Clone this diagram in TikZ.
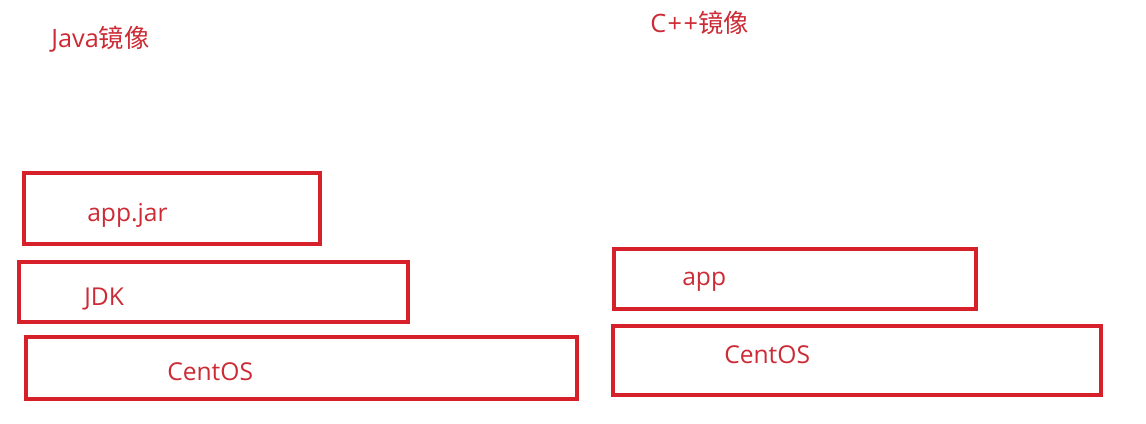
\documentclass[tikz,border=0pt]{standalone}
\usepackage{fontspec}
\setmainfont{Open Sans}
\newfontfamily\cjk{Noto Sans CJK SC}
\usepackage{tikz}
\usetikzlibrary{positioning}
\usepackage{xcolor}
\definecolor{PenRed}{RGB}{214,32,42}
\definecolor{InkRed}{RGB}{204,42,52}

\begin{document}
\begin{tikzpicture}[x=0.025cm,y=-0.025cm,
  layer/.style={draw=PenRed,line width=0.1cm,inner sep=0pt},
  lbl/.style={text=InkRed,inner sep=0pt,anchor=base west,font=\fontsize{17.5}{20}\selectfont},
  ttl/.style={text=InkRed,inner sep=0pt,anchor=base west,font=\fontsize{18}{21}\selectfont},
]
\useasboundingbox (0,0) rectangle (1146,423);
% titles
\node[ttl] (javattl) at (51,47) {Java{\cjk 镜像}};
\node[ttl] (cppttl) at (650,32) {C{\kern1pt}+{\kern1pt}+{\cjk 镜像}};
% Java image layers
\node[layer,minimum width=7.4cm,minimum height=1.775cm] (jarbox) at (172,208.5) {};
\node[layer,minimum width=9.725cm,minimum height=1.5cm] (jdkbox) at (213.5,292) {};
\node[layer,minimum width=13.775cm,minimum height=1.55cm] (jvmos) at (301.5,368) {};
\node[lbl] (jar) at (87,221) {app.jar};
\node[lbl] (jdk) at (84,305) {JDK};
\node[lbl] (jvmostxt) at (167,380) {CentOS};
% C++ image layers
\node[layer,minimum width=9.05cm,minimum height=1.5cm] (appbox) at (795,279) {};
\node[layer,minimum width=12.2cm,minimum height=1.725cm] (cppos) at (857,360.5) {};
\node[lbl] (app) at (682,285) {app};
\node[lbl] (cppostxt) at (724,363) {CentOS};
\end{tikzpicture}
\end{document}
